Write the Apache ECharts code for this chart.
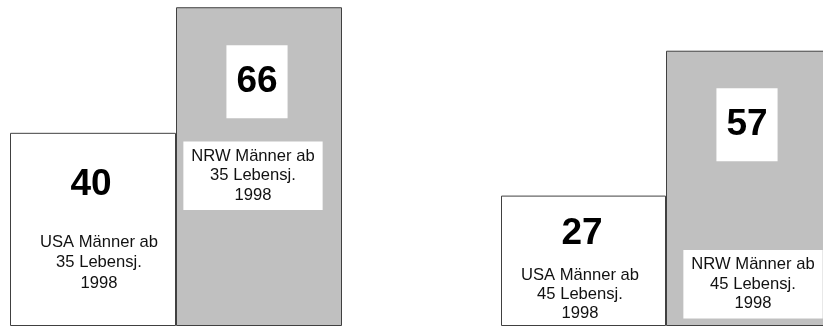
<!DOCTYPE html>
<html>
<head>
<meta charset="utf-8">
<script src="https://cdn.jsdelivr.net/npm/echarts@6/dist/echarts.min.js"></script>
<style>
  html, body { margin: 0; padding: 0; background: #fff; }
  #chart { width: 823px; height: 326px; }
</style>
</head>
<body>
<div id="chart"></div>
<script>
// data for the two panels
var labels35 = ['USA Männer ab\n35 Lebensj.\n1998', 'NRW Männer ab\n35 Lebensj.\n1998'];
var values35 = [40, 66];
var labels45 = ['USA Männer ab\n45 Lebensj.\n1998', 'NRW Männer ab\n45 Lebensj.\n1998'];
var values45 = [27, 57];

var fills = ['#ffffff', '#c0c0c0'];
var font = 'Liberation Sans, Arial, sans-serif';

// label layouts (relative to bar top-left)
var textPos = [
  [{ position: [89, 130], lineHeight: 20.5 }, { position: [77, 168.5], lineHeight: 19.5, box: true }],
  [{ position: [79, 99], lineHeight: 18.7 }, { position: [87, 233.5], lineHeight: 19.5, box: true }]
];
var numPos = [
  [{ position: [81, 52] }, { position: [81, 74.5], box: true }],
  [{ position: [81, 38] }, { position: [81, 74], box: true }]
];

function barData(values, panel) {
  return values.map(function (v, i) {
    var t = textPos[panel][i];
    return {
      value: v,
      itemStyle: { color: fills[i], borderColor: '#404040', borderWidth: 1 },
      label: {
        show: true,
        position: t.position,
        align: 'center',
        verticalAlign: 'middle',
        formatter: '{b}',
        fontFamily: font,
        fontSize: 16.6,
        color: '#111',
        lineHeight: t.lineHeight,
        backgroundColor: t.box ? '#fff' : 'transparent',
        padding: t.box ? [5, 8] : 0
      }
    };
  });
}

function numData(values, panel) {
  return values.map(function (v, i) {
    var n = numPos[panel][i];
    return {
      value: v,
      itemStyle: { color: 'transparent', borderWidth: 0 },
      label: {
        show: true,
        position: n.position,
        align: 'center',
        verticalAlign: 'middle',
        formatter: '{c}',
        fontFamily: font,
        fontSize: 37,
        fontWeight: 'bold',
        color: '#000',
        lineHeight: 37,
        backgroundColor: n.box ? '#fff' : 'transparent',
        padding: n.box ? [18, 10] : 0
      }
    };
  });
}

var chart = echarts.init(document.getElementById('chart'));
var option = {
  animation: false,
  grid: [
    { left: 10, width: 332, top: 0, bottom: 0, outerBoundsMode: 'none' },
    { left: 501, width: 330, top: 0, bottom: 0, outerBoundsMode: 'none' }
  ],
  xAxis: [
    { type: 'category', gridIndex: 0, data: labels35, show: false },
    { type: 'category', gridIndex: 1, data: labels45, show: false }
  ],
  yAxis: [
    { type: 'value', gridIndex: 0, min: 0, max: 67.5, show: false },
    { type: 'value', gridIndex: 1, min: 0, max: 67.5, show: false }
  ],
  series: [
    { type: 'bar', xAxisIndex: 0, yAxisIndex: 0, barCategoryGap: '0%', barGap: '-100%', data: barData(values35, 0) },
    { type: 'bar', xAxisIndex: 0, yAxisIndex: 0, barCategoryGap: '0%', barGap: '-100%', data: numData(values35, 0) },
    { type: 'bar', xAxisIndex: 1, yAxisIndex: 1, barCategoryGap: '0%', barGap: '-100%', data: barData(values45, 1) },
    { type: 'bar', xAxisIndex: 1, yAxisIndex: 1, barCategoryGap: '0%', barGap: '-100%', data: numData(values45, 1) }
  ]
};
chart.setOption(option);
</script>
</body>
</html>
